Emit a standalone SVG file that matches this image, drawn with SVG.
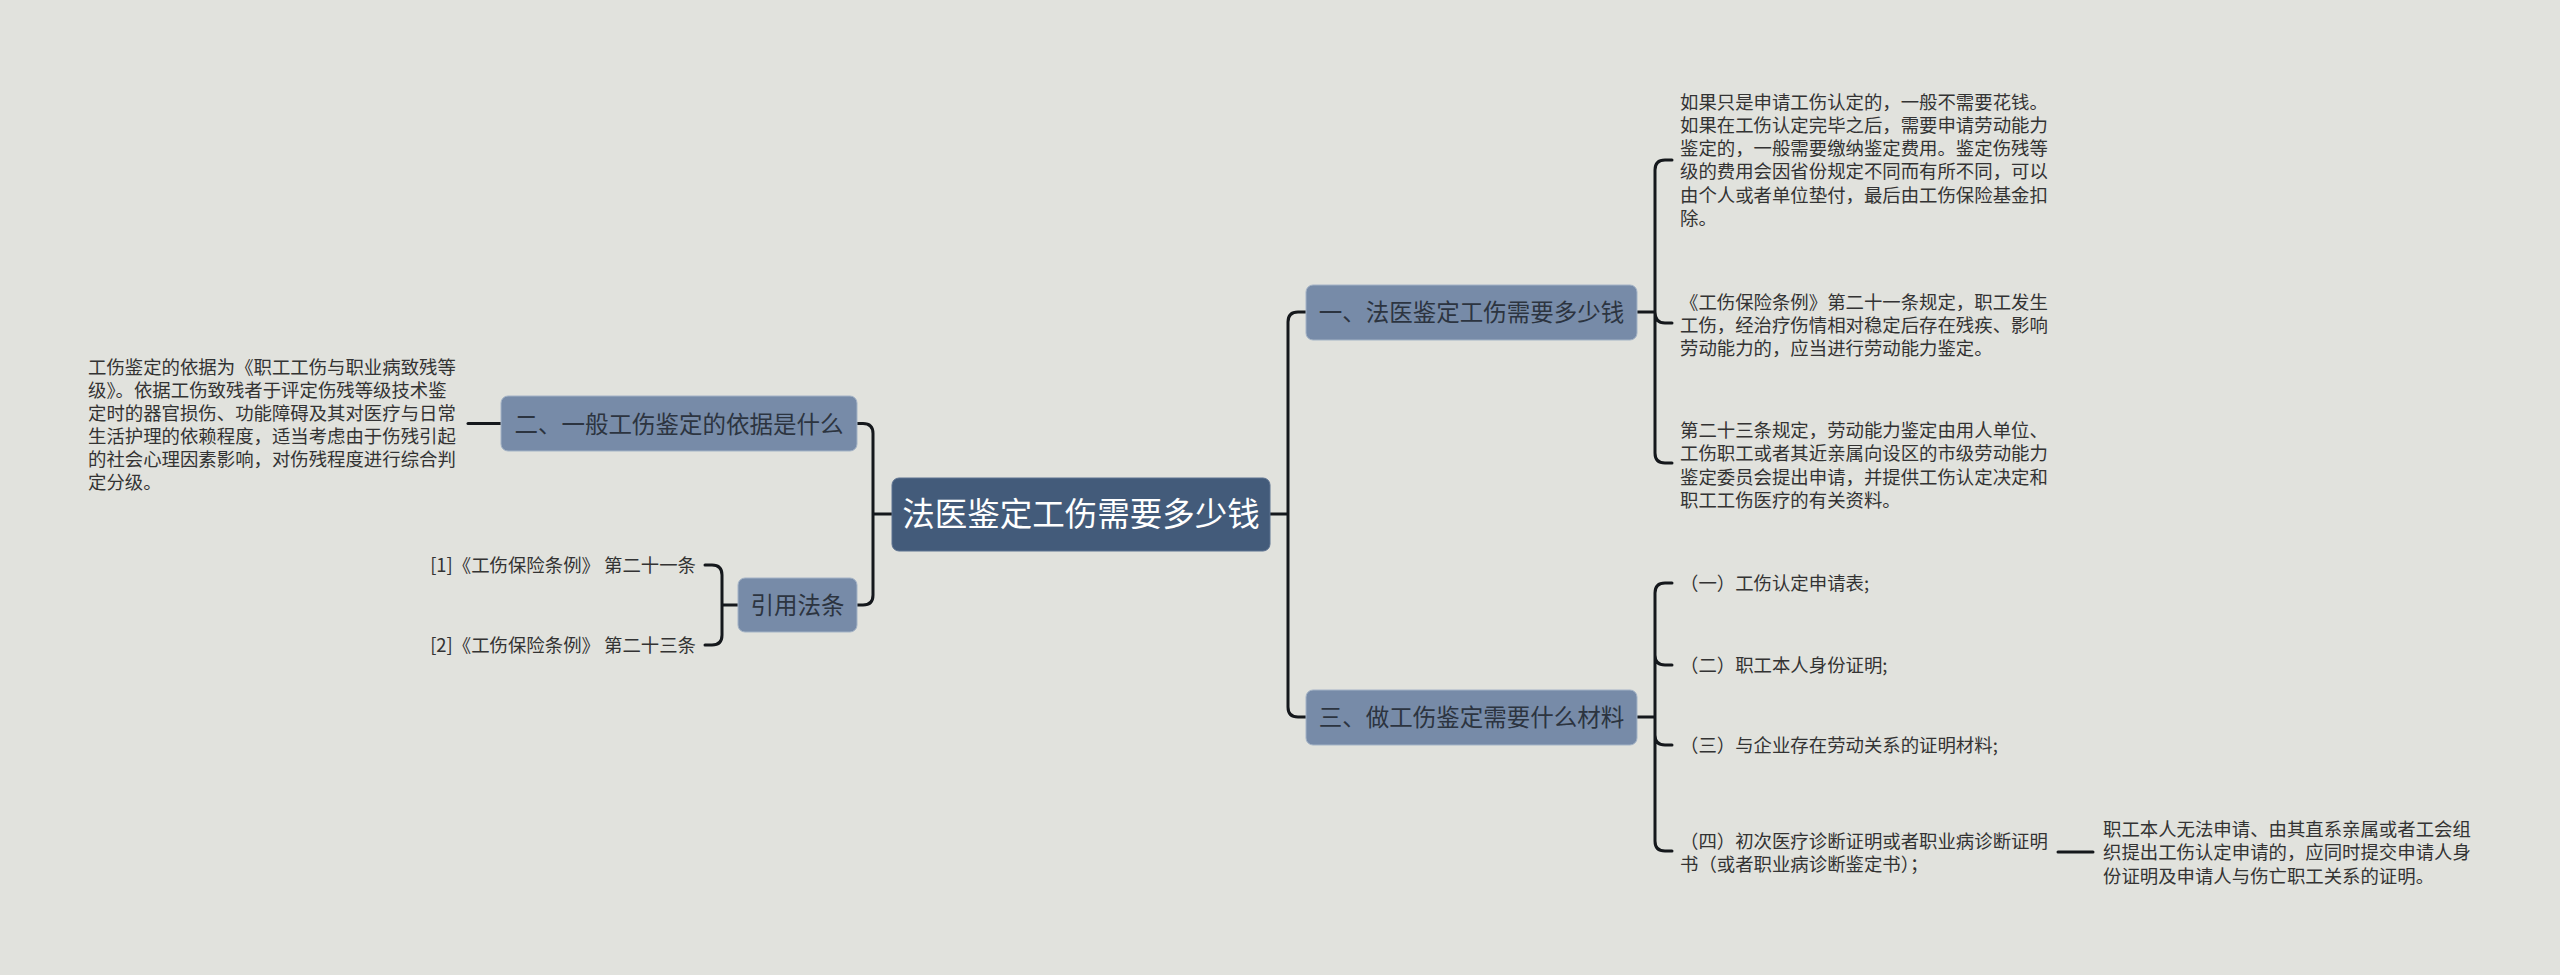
<svg xmlns="http://www.w3.org/2000/svg" width="2560" height="975" viewBox="0 0 2560 975">
<style>
.bg{fill:#e1e2dd}
.root{fill:#435b7a;stroke:#5d7290;stroke-width:1}
.sub{fill:#778ba8;stroke:#a4b3c6;stroke-width:1}
.rt{font-family:"Noto Sans CJK SC",sans-serif;font-size:32.5px;fill:#ffffff;text-anchor:middle}
.st{font-family:"Noto Sans CJK SC",sans-serif;font-size:23.5px;fill:#2c3440;text-anchor:middle}
.lt{font-family:"Noto Sans CJK SC",sans-serif;font-size:18.4px;fill:#333333}
.c{fill:none;stroke:#15181c;stroke-width:3;stroke-linecap:round;stroke-linejoin:round}
</style>
<rect class="bg" x="0" y="0" width="2560" height="975"/>
<g id="connectors">
<path class="c" d="M1270,514 H1288 M1306,312 H1298 Q1288,312 1288,322 V707 Q1288,717 1298,717 H1306"/>
<path class="c" d="M892,514 H873 M857,423.5 H863 Q873,423.5 873,433.5 V595 Q873,605 863,605 H857"/>
<path class="c" d="M1637,312 H1655 M1672,160 H1665 Q1655,160 1655,170 V453 Q1655,463 1665,463 H1672 M1655,312 Q1655,323 1665,323 H1672"/>
<path class="c" d="M1637,717 H1655 M1672,583 H1665 Q1655,583 1655,593 V841 Q1655,851 1665,851 H1672 M1655,655 Q1655,665 1665,665 H1672 M1655,735 Q1655,745 1665,745 H1672"/>
<path class="c" d="M501,423.5 H468"/>
<path class="c" d="M738,605 H722 M705,565 H712 Q722,565 722,575 V635 Q722,645 712,645 H705"/>
<path class="c" d="M2058,852 H2093"/>
</g>
<g id="root">
<rect class="root" x="892" y="478" width="378" height="73" rx="7"/>
<text class="rt" x="1081" y="525.5">法医鉴定工伤需要多少钱</text>
</g>
<g id="n1">
<rect class="sub" x="1306" y="285" width="331" height="55" rx="7"/>
<text class="st" x="1471.5" y="321">一、法医鉴定工伤需要多少钱</text>
</g>
<g id="n3">
<rect class="sub" x="1306" y="690" width="331" height="55" rx="7"/>
<text class="st" x="1471.5" y="726">三、做工伤鉴定需要什么材料</text>
</g>
<g id="n2">
<rect class="sub" x="501" y="396" width="356" height="55" rx="7"/>
<text class="st" x="679" y="432.5">二、一般工伤鉴定的依据是什么</text>
</g>
<g id="n4">
<rect class="sub" x="738" y="578" width="119" height="54" rx="7"/>
<text class="st" x="797.5" y="614">引用法条</text>
</g>
<g id="n1a">
<text class="lt" x="1680" y="108.5"><tspan x="1680">如果只是申请工伤认定的，一般不需要花钱。</tspan><tspan x="1680" dy="23.3">如果在工伤认定完毕之后，需要申请劳动能力</tspan><tspan x="1680" dy="23.3">鉴定的，一般需要缴纳鉴定费用。鉴定伤残等</tspan><tspan x="1680" dy="23.3">级的费用会因省份规定不同而有所不同，可以</tspan><tspan x="1680" dy="23.3">由个人或者单位垫付，最后由工伤保险基金扣</tspan><tspan x="1680" dy="23.3">除。</tspan></text>
</g>
<g id="n1b">
<text class="lt" x="1680" y="308.5"><tspan x="1680">《工伤保险条例》第二十一条规定，职工发生</tspan><tspan x="1680" dy="23.3">工伤，经治疗伤情相对稳定后存在残疾、影响</tspan><tspan x="1680" dy="23.3">劳动能力的，应当进行劳动能力鉴定。</tspan></text>
</g>
<g id="n1c">
<text class="lt" x="1680" y="437"><tspan x="1680">第二十三条规定，劳动能力鉴定由用人单位、</tspan><tspan x="1680" dy="23.3">工伤职工或者其近亲属向设区的市级劳动能力</tspan><tspan x="1680" dy="23.3">鉴定委员会提出申请，并提供工伤认定决定和</tspan><tspan x="1680" dy="23.3">职工工伤医疗的有关资料。</tspan></text>
</g>
<g id="n3a">
<text class="lt" x="1680" y="590">（一）工伤认定申请表;</text>
</g>
<g id="n3b">
<text class="lt" x="1680" y="672">（二）职工本人身份证明;</text>
</g>
<g id="n3c">
<text class="lt" x="1680" y="752">（三）与企业存在劳动关系的证明材料;</text>
</g>
<g id="n3d">
<text class="lt" x="1680" y="848"><tspan x="1680">（四）初次医疗诊断证明或者职业病诊断证明</tspan><tspan x="1680" dy="23.3">书（或者职业病诊断鉴定书）；</tspan></text>
</g>
<g id="n3d1">
<text class="lt" x="2103" y="836"><tspan x="2103">职工本人无法申请、由其直系亲属或者工会组</tspan><tspan x="2103" dy="23.3">织提出工伤认定申请的，应同时提交申请人身</tspan><tspan x="2103" dy="23.3">份证明及申请人与伤亡职工关系的证明。</tspan></text>
</g>
<g id="n2a">
<text class="lt" x="88" y="373.5"><tspan x="88">工伤鉴定的依据为《职工工伤与职业病致残等</tspan><tspan x="88" dy="23">级》。依据工伤致残者于评定伤残等级技术鉴</tspan><tspan x="88" dy="23">定时的器官损伤、功能障碍及其对医疗与日常</tspan><tspan x="88" dy="23">生活护理的依赖程度，适当考虑由于伤残引起</tspan><tspan x="88" dy="23">的社会心理因素影响，对伤残程度进行综合判</tspan><tspan x="88" dy="23">定分级。</tspan></text>
</g>
<g id="n4a">
<text class="lt" x="696" y="572" text-anchor="end">[1]《工伤保险条例》 第二十一条</text>
</g>
<g id="n4b">
<text class="lt" x="696" y="652" text-anchor="end">[2]《工伤保险条例》 第二十三条</text>
</g>
</svg>
